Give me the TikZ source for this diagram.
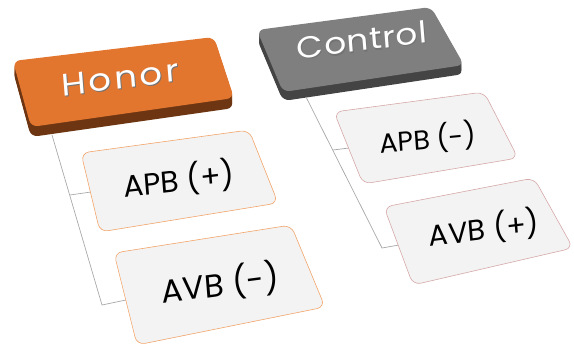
\documentclass[tikz,border=0pt]{standalone}
\usepackage{fontspec}
\setmainfont{Poppins}
\newfontfamily\honorfont[LetterSpace=8]{Poppins}
\newfontfamily\ctrlfont[LetterSpace=2]{Poppins}
\definecolor{honortop}{HTML}{E2762F}
\definecolor{honordark}{HTML}{6E3512}
\definecolor{ctrltop}{HTML}{7F7F7F}
\definecolor{ctrldark}{HTML}{3F3F3F}
\definecolor{cardfill}{HTML}{F3F3F3}
\definecolor{honorline}{HTML}{F2A46A}
\definecolor{ctrlline}{HTML}{D6A8A8}
\definecolor{linkgray}{HTML}{A8A8A8}
\begin{document}
\begin{tikzpicture}[x=1pt,y=-1pt,
  conn/.style={draw=linkgray, line width=0.7pt},
  card/.style={fill=cardfill, line width=0.6pt, rounded corners=8pt},
  headtext/.style={text=white, inner sep=0pt},
  headshadow/.style={text=black!55, inner sep=0pt},
  cardtext/.style={text=black, inner sep=0pt},
]
\useasboundingbox (0,0) rectangle (574,347);

% ---------- Honor heading (raised key) ----------
\coordinate (hA) at (13,61);
\coordinate (hB) at (214,37);
\coordinate (hC) at (234,98);
\coordinate (hD) at (31,127);
\foreach \k [evaluate=\k as \p using 25+7.5*\k] in {1,...,10}
  \fill[honordark!\p!honortop, rounded corners=7pt]
    ([yshift=-\k pt]hA) -- ([yshift=-\k pt]hB) -- ([yshift=-\k pt]hC) -- ([yshift=-\k pt]hD) -- cycle;
\fill[honortop, rounded corners=7pt] (hA) -- (hB) -- (hC) -- (hD) -- cycle;
\begin{scope}[cm={1.14,0.15,-0.08,1,(120,78)}]
  \node[headshadow, transform shape, font=\honorfont\fontsize{31}{31}\selectfont] at (0.8,1.2) {Honor};
  \node[headtext, transform shape, font=\honorfont\fontsize{31}{31}\selectfont] (honor) at (0,0) {Honor};
\end{scope}

% ---------- Control heading (raised key) ----------
\coordinate (cA) at (257,30);
\coordinate (cB) at (431,7);
\coordinate (cC) at (464,65);
\coordinate (cD) at (283,92);
\foreach \k [evaluate=\k as \p using 25+7.5*\k] in {1,...,9}
  \fill[ctrldark!\p!ctrltop, rounded corners=7pt]
    ([yshift=-\k pt]cA) -- ([yshift=-\k pt]cB) -- ([yshift=-\k pt]cC) -- ([yshift=-\k pt]cD) -- cycle;
\fill[ctrltop, rounded corners=7pt] (cA) -- (cB) -- (cC) -- (cD) -- cycle;
\begin{scope}[cm={1.14,0.15,-0.08,1,(362,40)}]
  \node[headshadow, transform shape, font=\ctrlfont\fontsize{30}{30}\selectfont] at (0.8,1.2) {Control};
  \node[headtext, transform shape, font=\ctrlfont\fontsize{30}{30}\selectfont] (control) at (0,0) {Control};
\end{scope}

% ---------- connectors ----------
\coordinate (hTop) at (52,135);
\coordinate (hJ1) at (70,195);
\coordinate (hJ2) at (102,305);
\coordinate (hE1) at (91,192);
\coordinate (hE2) at (126,300);
\draw[conn] (hTop) -- (hJ2) -- (hE2);
\draw[conn] (hJ1) -- (hE1);

\coordinate (cTop) at (306,97);
\coordinate (cJ1) at (333,150);
\coordinate (cJ2) at (382,248);
\coordinate (cE1) at (349,148);
\coordinate (cE2) at (399,245);
\draw[conn] (cTop) -- (cJ2) -- (cE2);
\draw[conn] (cJ1) -- (cE1);

% ---------- Honor children ----------
\draw[card, draw=honorline] (81,153) -- (249,130) -- (278,203) -- (100,232) -- cycle;
\begin{scope}[cm={0.9936,0.1132,-0.08,1,(179,180)}]
  \node[cardtext, transform shape, font=\fontsize{30}{30}\selectfont] (apbp) {APB (+)};
\end{scope}

\draw[card, draw=honorline] (114,253) -- (291,225) -- (325,307) -- (137,345) -- cycle;
\begin{scope}[cm={0.9914,0.1305,-0.08,1,(220,284)}]
  \node[cardtext, transform shape, font=\fontsize{32}{32}\selectfont] (avbm) {AVB (-)};
\end{scope}

% ---------- Control children ----------
\draw[card, draw=ctrlline] (334,112) -- (484,92) -- (518,158) -- (363,184) -- cycle;
\begin{scope}[cm={0.9954,0.0958,-0.07,1,(428,139)}]
  \node[cardtext, transform shape, font=\fontsize{27}{27}\selectfont] (apbm) {APB (-)};
\end{scope}

\draw[card, draw=ctrlline] (384,207) -- (534,178) -- (573,248) -- (413,285) -- cycle;
\begin{scope}[cm={0.9925,0.1219,-0.08,1,(484,229)}]
  \node[cardtext, transform shape, font=\fontsize{29}{29}\selectfont] (avbp) {AVB (+)};
\end{scope}
\end{tikzpicture}
\end{document}
